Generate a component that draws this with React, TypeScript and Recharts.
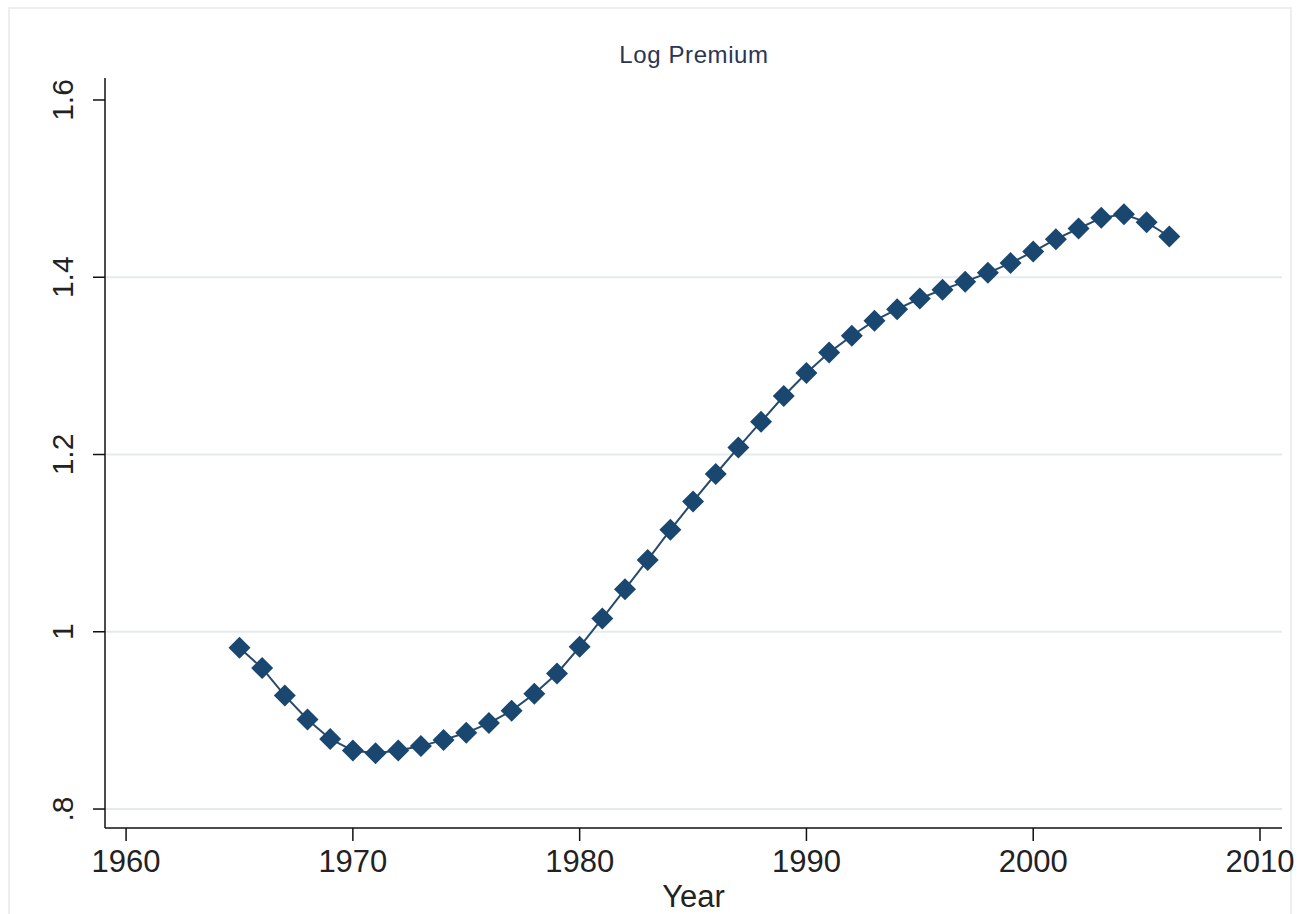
import { LineChart, Line, XAxis, YAxis, ReferenceLine, Label } from 'recharts';

// Log premium by year
const years = [
  1965, 1966, 1967, 1968, 1969, 1970, 1971, 1972, 1973, 1974, 1975, 1976, 1977, 1978,
  1979, 1980, 1981, 1982, 1983, 1984, 1985, 1986, 1987, 1988, 1989, 1990, 1991, 1992,
  1993, 1994, 1995, 1996, 1997, 1998, 1999, 2000, 2001, 2002, 2003, 2004, 2005, 2006,
];
const logPremium = [
  0.982, 0.959, 0.928, 0.901, 0.879, 0.866, 0.863, 0.866, 0.871, 0.878, 0.886, 0.897, 0.911, 0.93,
  0.953, 0.983, 1.015, 1.048, 1.081, 1.115, 1.147, 1.178, 1.208, 1.237, 1.266, 1.292, 1.315, 1.334,
  1.351, 1.364, 1.376, 1.386, 1.395, 1.405, 1.416, 1.429, 1.443, 1.455, 1.467, 1.471, 1.462, 1.446,
];

const xTicks = [1960, 1970, 1980, 1990, 2000, 2010];
const yTicks = [0.8, 1, 1.2, 1.4, 1.6];
const yTickLabels = ['.8', '1', '1.2', '1.4', '1.6'];
const gridValues = [0.8, 1, 1.2, 1.4];

const data = years.map((year, i) => ({ year, value: logPremium[i] }));

const NAVY = '#1a476f';
const FONT = '"Liberation Sans", Arial, sans-serif';

const Diamond = (props: any) => {
  const { cx, cy } = props;
  if (cx == null || cy == null) return null;
  const r = 11;
  return (
    <polygon
      points={`${cx},${cy - r} ${cx + r},${cy} ${cx},${cy + r} ${cx - r},${cy}`}
      fill={NAVY}
      stroke="none"
    />
  );
};

const YTick = (props: any) => {
  const { x, y, payload } = props;
  const idx = yTicks.indexOf(payload.value);
  const tx = x - 18;
  return (
    <text
      x={tx}
      y={y}
      transform={`rotate(-90, ${tx}, ${y})`}
      textAnchor="middle"
      fontSize={30}
      fontFamily={FONT}
      fill="#222"
    >
      {idx >= 0 ? yTickLabels[idx] : payload.value}
    </text>
  );
};

export default function App() {
  return (
    <div
      style={{
        position: 'absolute',
        left: 0,
        top: 0,
        width: 1298,
        height: 914,
        overflow: 'hidden',
        background: '#fff',
      }}
    >
      {/* faint outer frame */}
      <div
        style={{
          position: 'absolute',
          left: 8,
          top: 7,
          width: 1280,
          height: 940,
          border: '2px solid #eeeeee',
        }}
      />
      <div style={{ position: 'absolute', left: 0, top: 0 }}>
        <LineChart
          width={1298}
          height={914}
          data={data}
          margin={{ top: 78, right: 16, bottom: 0, left: 0 }}
        >
          {gridValues.map((v) => (
            <ReferenceLine key={v} y={v} stroke="#e4ebef" strokeWidth={2} ifOverflow="extendDomain" />
          ))}
          <XAxis
            dataKey="year"
            type="number"
            domain={[1959.07, 2010.97]}
            ticks={xTicks}
            allowDataOverflow
            height={86}
            tickSize={13}
            tickMargin={9}
            interval={0}
            axisLine={{ stroke: '#111', strokeWidth: 1.5 }}
            tickLine={{ stroke: '#111', strokeWidth: 1.5 }}
            tick={{ fontSize: 31, fill: '#222', fontFamily: FONT }}
          >
            <Label
              value="Year"
              position="insideBottom"
              offset={7}
              fontSize={31}
              fill="#222"
              fontFamily={FONT}
            />
          </XAxis>
          <YAxis
            type="number"
            domain={[0.7786, 1.6248]}
            ticks={yTicks}
            allowDataOverflow
            width={105}
            tickSize={12}
            interval={0}
            axisLine={{ stroke: '#111', strokeWidth: 1.5 }}
            tickLine={{ stroke: '#111', strokeWidth: 1.5 }}
            tick={<YTick />}
          />
          <Line
            type="linear"
            dataKey="value"
            stroke="#2a4a6a"
            strokeWidth={2}
            dot={<Diamond />}
            activeDot={false}
            isAnimationActive={false}
          />
        </LineChart>
      </div>
      <svg
        width={1298}
        height={100}
        style={{ position: 'absolute', left: 0, top: 0, pointerEvents: 'none' }}
      >
        <text
          x={694}
          y={63}
          textAnchor="middle"
          fontSize={24}
          letterSpacing={0.6}
          fontFamily={FONT}
          fill="#2b3553"
        >
          Log Premium
        </text>
      </svg>
    </div>
  );
}
